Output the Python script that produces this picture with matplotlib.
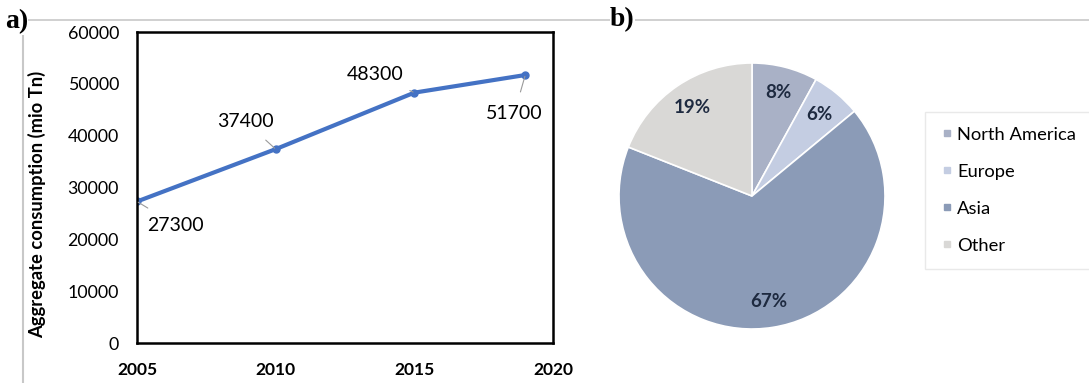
import matplotlib.pyplot as plt
from matplotlib.lines import Line2D

# Aggregate consumption over time
years = [2005, 2010, 2015, 2019]
consumption = [27300, 37400, 48300, 51700]
# label offsets (points) for the value labels
label_offsets = [(28, -17), (-22, 20), (-28, 13), (-8, -28)]

# Regional shares
regions = ["North America", "Europe", "Asia", "Other"]
shares = [8, 6, 67, 19]
region_colors = ["#a9b1c6", "#c4cde2", "#8b9bb7", "#d9d8d6"]

W, H = 1089, 383
fig = plt.figure(figsize=(W / 100, H / 100), dpi=100)
fig.patch.set_facecolor("white")

font = "Lato"

# ---- panel a) line chart ----
ax = fig.add_axes([137 / W, 1 - 343 / H, (553 - 137) / W, (343 - 32) / H])
ax.plot(years, consumption, color="#4472c4", lw=3, marker="o", ms=5,
        solid_capstyle="round")
ax.set_xlim(2005, 2020)
ax.set_ylim(0, 60000)
ax.set_xticks([2005, 2010, 2015, 2020])
ax.set_yticks(range(0, 60001, 10000))
ax.tick_params(length=0)
for lab in ax.get_xticklabels():
    lab.set_fontfamily(font)
    lab.set_fontweight("bold")
    lab.set_fontsize(12.5)
ax.tick_params(axis="x", pad=14)
for lab in ax.get_yticklabels():
    lab.set_fontfamily(font)
    lab.set_fontsize(12.8)
ax.tick_params(axis="y", pad=13)
for s in ax.spines.values():
    s.set_linewidth(1.8)
    s.set_color("black")
ax.set_ylabel("Aggregate consumption (mio Tn)", fontfamily=font,
              fontweight="bold", fontsize=13.2)
ax.yaxis.set_label_coords(-0.219, 0.445)
for x, y, off in zip(years, consumption, label_offsets):
    ax.annotate(f"{y}", xy=(x, y), xytext=off, textcoords="offset points",
                ha="center", va="center", fontfamily=font, fontsize=14,
                arrowprops=dict(arrowstyle="-", color="#9a9a9a", lw=0.8,
                                shrinkA=8, shrinkB=1))

# ---- panel b) pie chart ----
cx, cy, r = 752, 196, 133
pax = fig.add_axes([(cx - r) / W, 1 - (cy + r) / H, 2 * r / W, 2 * r / H])
wedges, texts, autotexts = pax.pie(
    shares, colors=region_colors, startangle=90, counterclock=False,
    autopct=lambda p: f"{p:.0f}%", pctdistance=0.8,
    wedgeprops=dict(edgecolor="white", linewidth=1.2),
    textprops=dict(fontfamily=font, fontweight="bold", fontsize=13.5,
                   color="#1e2a40"))
pax.set_xlim(-1, 1)
pax.set_ylim(-1, 1)
pax.set_aspect("equal")

handles = [Line2D([], [], marker="s", ls="", color=c, ms=5) for c in region_colors]
leg = fig.legend(handles, regions, loc="upper left",
                 bbox_to_anchor=(925 / W, 1 - 112 / H),
                 frameon=True, fancybox=False, edgecolor="#e4e4e4",
                 prop=dict(family=font, size=13.2), labelspacing=1.15,
                 handletextpad=0.15, handlelength=0.8, borderpad=0.8,
                 borderaxespad=0)

# ---- panel frames and letters ----
fig.add_artist(Line2D([23 / W, 1], [1 - 20 / H, 1 - 20 / H], color="#c8c8c8", lw=1.2))
fig.add_artist(Line2D([23 / W, 23 / W], [0, 1 - 20 / H], color="#c8c8c8", lw=1.5))
fig.text(5 / W, 1 - 22 / H, "a)", fontfamily="Liberation Serif", fontweight="bold",
         fontsize=20, va="center", ha="left",
         bbox=dict(facecolor="white", edgecolor="none", pad=0))
fig.text(610 / W, 1 - 20 / H, "b)", fontfamily="Liberation Serif", fontweight="bold",
         fontsize=20, va="center", ha="left",
         bbox=dict(facecolor="white", edgecolor="none", pad=0))

fig.savefig("out.png", dpi=100)
